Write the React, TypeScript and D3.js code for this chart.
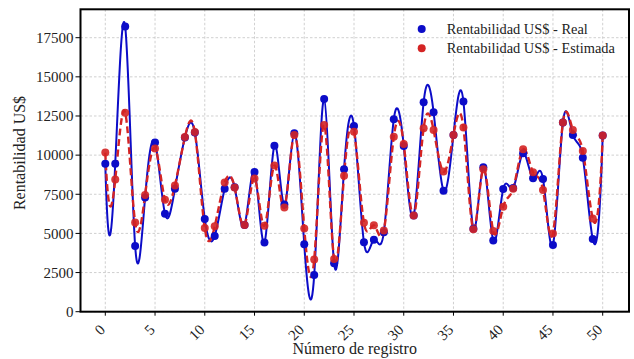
import React from "react";
import * as d3 from "d3";

const registros: number[] = Array.from({ length: 51 }, (_, i) => i);

const realValues: number[] = [
  9450, 9450, 18210, 4200, 7300, 10800, 6250, 7850, 11130, 11450,
  5920, 4840, 7850, 7950, 5530, 8920, 4420, 10600, 6840, 11390,
  4300, 2340, 13590, 3090, 9100, 11860, 4430, 4600, 5070, 12290,
  10590, 6150, 13380, 12740, 7730, 11290, 13420, 5300, 9220, 4540,
  7840, 7900, 10120, 8520, 8480, 4260, 12080, 11290, 9840, 4640,
  11250,
];

const estValues: number[] = [
  10160, 8440, 12710, 5690, 7450, 10430, 7150, 8060, 11150, 11470,
  5340, 5450, 8250, 7940, 5530, 8500, 5490, 9340, 6650, 11290,
  5320, 3340, 11930, 3360, 8690, 11500, 5680, 5520, 5190, 11180,
  10710, 6140, 11720, 11610, 8950, 11290, 11760, 5270, 9100, 5150,
  6710, 7860, 10370, 8900, 7780, 5000, 12080, 11610, 10270, 5960,
  11250,
];

const xTicks: number[] = [0, 5, 10, 15, 20, 25, 30, 35, 40, 45, 50];
const yTicks: number[] = [0, 2500, 5000, 7500, 10000, 12500, 15000, 17500];
const seriesNames: string[] = ["Rentabilidad US$ - Real", "Rentabilidad US$ - Estimada"];

// Not-a-knot cubic spline curve for d3.line
function solve(A: number[][], b: number[]): number[] {
  const n = b.length;
  const M = A.map((r, i) => [...r, b[i]]);
  for (let c = 0; c < n; c++) {
    let p = c;
    for (let r = c + 1; r < n; r++) if (Math.abs(M[r][c]) > Math.abs(M[p][c])) p = r;
    [M[c], M[p]] = [M[p], M[c]];
    const piv = M[c][c];
    for (let r = c + 1; r < n; r++) {
      const f = M[r][c] / piv;
      if (f === 0) continue;
      for (let k = c; k <= n; k++) M[r][k] -= f * M[c][k];
    }
  }
  const x = new Array(n).fill(0);
  for (let r = n - 1; r >= 0; r--) {
    let s = M[r][n];
    for (let k = r + 1; k < n; k++) s -= M[r][k] * x[k];
    x[r] = s / M[r][r];
  }
  return x;
}

function curveNotAKnot(context: any) {
  let xs: number[] = [];
  let ys: number[] = [];
  return {
    areaStart() {},
    areaEnd() {},
    lineStart() {
      xs = [];
      ys = [];
    },
    point(x: number, y: number) {
      xs.push(+x);
      ys.push(+y);
    },
    lineEnd() {
      const N = xs.length;
      if (N === 0) return;
      context.moveTo(xs[0], ys[0]);
      if (N < 4) {
        for (let i = 1; i < N; i++) context.lineTo(xs[i], ys[i]);
        return;
      }
      const n = N - 1;
      const h = xs.slice(0, n).map((x, i) => xs[i + 1] - x);
      const A: number[][] = Array.from({ length: N }, () => new Array(N).fill(0));
      const b: number[] = new Array(N).fill(0);
      A[0][0] = h[1];
      A[0][1] = -(h[0] + h[1]);
      A[0][2] = h[0];
      for (let i = 1; i < n; i++) {
        A[i][i - 1] = h[i - 1];
        A[i][i] = 2 * (h[i - 1] + h[i]);
        A[i][i + 1] = h[i];
        b[i] = 6 * ((ys[i + 1] - ys[i]) / h[i] - (ys[i] - ys[i - 1]) / h[i - 1]);
      }
      A[n][n - 2] = h[n - 1];
      A[n][n - 1] = -(h[n - 2] + h[n - 1]);
      A[n][n] = h[n - 2];
      const Mv = solve(A, b);
      for (let i = 0; i < n; i++) {
        const hi = h[i];
        const s = (ys[i + 1] - ys[i]) / hi;
        const d0 = s - (hi * (2 * Mv[i] + Mv[i + 1])) / 6;
        const d1 = s + (hi * (Mv[i] + 2 * Mv[i + 1])) / 6;
        context.bezierCurveTo(
          xs[i] + hi / 3,
          ys[i] + (d0 * hi) / 3,
          xs[i + 1] - hi / 3,
          ys[i + 1] - (d1 * hi) / 3,
          xs[i + 1],
          ys[i + 1]
        );
      }
    },
  };
}

const W = 634;
const H = 359;
const frameL = 80.5;
const frameR = 629;
const frameT = 9.3;
const frameB = 311.7;

const BLUE = "#0c0cc8";
const RED = "#d42424";
const FONT = '"Liberation Serif"';

export default function App() {
  const x = d3.scaleLinear().domain([0, 50]).range([105.3, 602.7]);
  const y = d3.scaleLinear().domain([0, 17500]).range([frameB, 37.7]);

  const line = d3
    .line<number>()
    .x((_, i) => x(registros[i]))
    .y((d) => y(d))
    .curve(curveNotAKnot as any);

  const ts = { fontFamily: FONT };

  return (
    <svg
      width={W}
      height={H}
      style={{ position: "absolute", left: 0, top: 0, background: "#fff" }}
    >
      {/* grid */}
      {xTicks.map((t) => (
        <line
          key={"gx" + t}
          x1={x(t)}
          x2={x(t)}
          y1={frameT}
          y2={frameB}
          stroke="#c4c4c4"
          strokeWidth={0.8}
          strokeDasharray="2.5,2"
        />
      ))}
      {yTicks.map((t) => (
        <line
          key={"gy" + t}
          x1={frameL}
          x2={frameR}
          y1={y(t)}
          y2={y(t)}
          stroke="#c4c4c4"
          strokeWidth={0.8}
          strokeDasharray="2.5,2"
        />
      ))}

      {/* lines */}
      <path d={line(realValues) || ""} fill="none" stroke={BLUE} strokeWidth={2} />
      <path
        d={line(estValues) || ""}
        fill="none"
        stroke={RED}
        strokeWidth={2.4}
        strokeDasharray="7,3.5"
      />
      {realValues.map((v, i) => (
        <circle key={"b" + i} cx={x(registros[i])} cy={y(v)} r={4} fill={BLUE} />
      ))}
      {estValues.map((v, i) => (
        <circle key={"r" + i} cx={x(registros[i])} cy={y(v)} r={4} fill={RED} fillOpacity={0.9} />
      ))}

      {/* frame */}
      <rect
        x={frameL}
        y={frameT}
        width={frameR - frameL}
        height={frameB - frameT}
        fill="none"
        stroke="#000"
        strokeWidth={2}
      />

      {/* y axis */}
      {yTicks.map((t) => (
        <g key={"yt" + t}>
          <line x1={frameL - 5} x2={frameL} y1={y(t)} y2={y(t)} stroke="#000" strokeWidth={1} />
          <text x={73.5} y={y(t)} dy="0.35em" textAnchor="end" fontSize={15} fill="#222" style={ts}>
            {t}
          </text>
        </g>
      ))}
      {/* x axis */}
      {xTicks.map((t) => (
        <g key={"xt" + t}>
          <line x1={x(t)} x2={x(t)} y1={frameB} y2={frameB + 4} stroke="#000" strokeWidth={1} />
          <text
            transform={`translate(${x(t) - 3},${327}) rotate(-45)`}
            textAnchor="end"
            dy="0.35em"
            fontSize={15}
            fill="#222"
            style={ts}
          >
            {t}
          </text>
        </g>
      ))}

      <text x={354.7} y={354} textAnchor="middle" fontSize={16} fill="#222" style={ts}>
        Número de registro
      </text>
      <text
        transform={`translate(25,${153}) rotate(-90)`}
        textAnchor="middle"
        fontSize={16}
        fill="#222"
        style={ts}
      >
        Rentabilidad US$
      </text>

      {/* legend */}
      {seriesNames.map((name, i) => (
        <g key={"lg" + i}>
          <circle cx={421.7} cy={29 + i * 19.3} r={4} fill={i === 0 ? BLUE : RED} />
          <text x={446.7} y={29 + i * 19.3} dy="0.35em" fontSize={14.4} fill="#222" style={ts}>
            {name}
          </text>
        </g>
      ))}
    </svg>
  );
}
